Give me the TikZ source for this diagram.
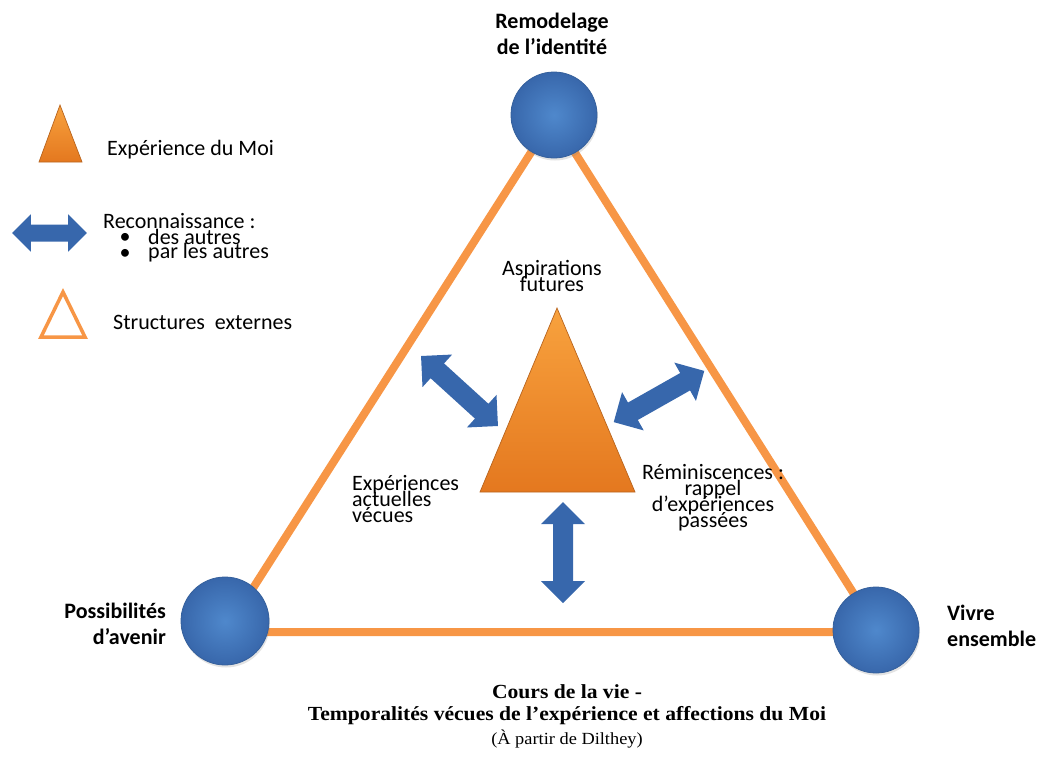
\documentclass[tikz,border=0pt]{standalone}
\usepackage{fontspec}
\setmainfont{Carlito}
\newfontfamily\capfont[FakeStretch=1.08]{Liberation Serif}
\usetikzlibrary{shadows}

\definecolor{struct}{HTML}{F79646}
\definecolor{moiA}{HTML}{F8A23E}
\definecolor{moiB}{HTML}{E4781F}
\definecolor{moiEdge}{HTML}{B8641E}
\definecolor{ballA}{HTML}{4F88CC}
\definecolor{ballB}{HTML}{3867AB}
\definecolor{ballEdge}{HTML}{35609C}
\definecolor{arrowblue}{HTML}{3767AC}

\begin{document}
\begin{tikzpicture}[x=1pt, y=-1pt,
  pole/.style={circle, minimum size=86pt, inner sep=0pt, draw=ballEdge,
    line width=0.8pt, inner color=ballA, outer color=ballB,
    drop shadow={opacity=0.22, shadow xshift=1pt, shadow yshift=-2.5pt}},
  polelabel/.style={font=\fontsize{22}{26}\selectfont\bfseries, inner sep=0pt},
  inlabel/.style={font={\fontsize{22}{16}\selectfont\lineskiplimit=-30pt}, inner sep=0pt},
  legend/.style={font=\fontsize{22}{26}\selectfont, anchor=west, inner sep=0pt},
  caption/.style={font=\capfont\bfseries\fontsize{20}{22}\selectfont, inner sep=0pt},
  moi/.style={draw=moiEdge, line width=0.7pt, top color=moiA, bottom color=moiB},
  pics/dblarrow/.style={code={
    \fill[arrowblue] (-#1,0) -- (-#1+22,-22) -- (-#1+22,-10) -- (#1-22,-10)
      -- (#1-22,-22) -- (#1,0) -- (#1-22,22) -- (#1-22,10) -- (-#1+22,10)
      -- (-#1+22,22) -- cycle;
  }}
]
\useasboundingbox (0,0) rectangle (1038,758);

% external structure: the large orange triangle
\coordinate (tA) at (553,118);
\coordinate (tB) at (225,632);
\coordinate (tC) at (878,632);
\draw[struct, line width=8pt, line join=round] (tA) -- (tB) -- (tC) -- cycle;

% the three poles
\node[pole] (identite) at (554,115) {};
\node[pole, minimum size=88pt] (avenir) at (225,621) {};
\node[pole] (ensemble) at (876,630) {};

\node[polelabel, align=center] (lblA) at (552,34) {Remodelage\\de l’identité};
\node[polelabel, align=right, anchor=east] (lblB) at (166,624) {Possibilités\\d’avenir};
\node[polelabel, align=left, anchor=west] (lblC) at (947,626) {Vivre\\ensemble};

% experience of the self
\coordinate (mTop) at (557,308);
\coordinate (mR) at (635,492);
\coordinate (mL) at (480,492);
\path[moi] (mTop) -- (mR) -- (mL) -- cycle;

% recognition arrows
\pic[rotate=-42.3] at (459.5,391) {dblarrow=52};
\pic[rotate=29.5] at (659,396.5) {dblarrow=52};
\pic[rotate=90] at (563,552.5) {dblarrow=50.5};

% inner labels
\node[inlabel, align=center] (asp) at (552,276) {Aspirations\\futures};
\node[inlabel, align=left, anchor=west] (exp) at (352,499) {Expériences\\actuelles\\vécues};
\node[inlabel, align=center] (rem) at (713,498) {Réminiscences :\\rappel\\d’expériences\\passées};

% legend
\path[moi] (60,105) -- (82,162) -- (39,162) -- cycle;
\node[legend] (legMoi) at (107,150) {Expérience du Moi};
\pic[scale=0.85] at (49.5,233) {dblarrow=44};
\node[legend] (legRec) at (103,221) {Reconnaissance :};
\node[inlabel] (b1) at (125,238) {•};
\node[inlabel] (b2) at (125,254) {•};
\node[legend] (legRec1) at (148,237) {des autres};
\node[legend] (legRec2) at (148,253) {par les autres};
\draw[struct, line width=3.5pt] (63,292) -- (85,337) -- (41,337) -- cycle;
\node[legend] (legStruct) at (113,322) {Structures\ \ externes};

% caption
\node[caption] (cap1) at (567,692) {Cours de la vie -};
\node[caption] (cap2) at (567,716) {Temporalités vécues de l’expérience et affections du Moi};
\node[font=\capfont\fontsize{17}{20}\selectfont, inner sep=0pt] (cap3) at (567,739) {(À partir de Dilthey)};
\end{tikzpicture}
\end{document}
